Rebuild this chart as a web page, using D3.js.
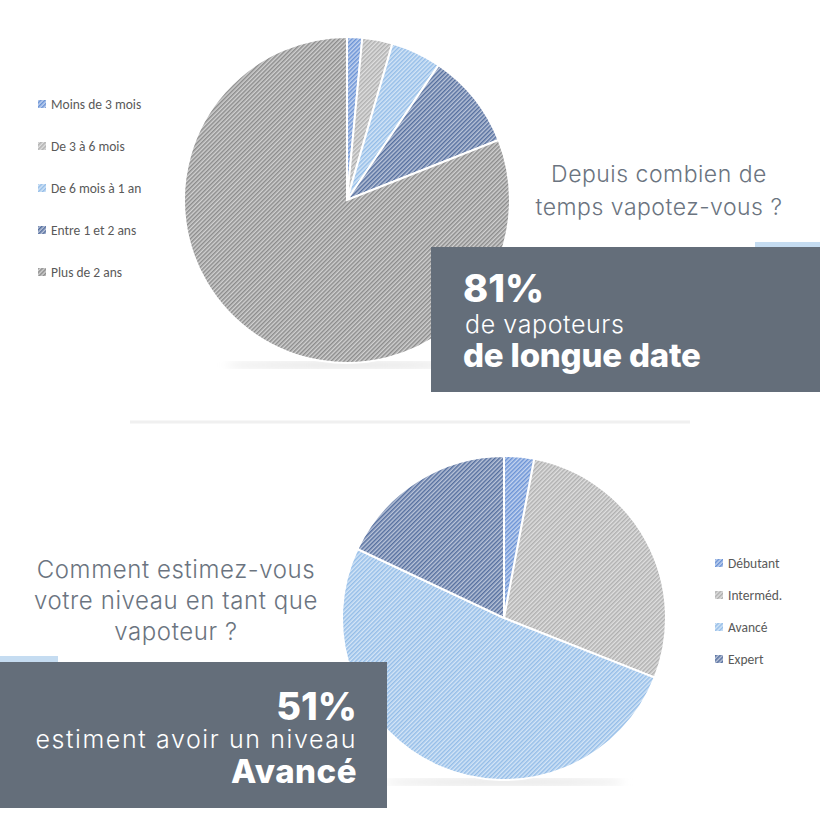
<!DOCTYPE html>
<html><head><meta charset="utf-8">
<script src="https://cdn.jsdelivr.net/npm/d3@7"></script>
<style>body{margin:0;background:#fff}</style>
</head><body><div id="chart"></div>
<script>
const durees=['Moins de 3 mois','De 3 à 6 mois','De 6 mois à 1 an','Entre 1 et 2 ans','Plus de 2 ans'];
const dureeVals=[1.5,3,5,9.5,81];
const niveaux=['Débutant','Interméd.','Avancé','Expert'];
const niveauVals=[3,28,51,18];
const colors1=['#6b93d6','#b0b0b0','#94bde8','#556f9f','#8c8c8c'];

const svg=d3.select('#chart').append('svg').attr('width',820).attr('height',820);
const defs=svg.append('defs');
//hatched fills like the office charts
function hatch(id,c){
  const p=defs.append('pattern').attr('id',id).attr('width',3).attr('height',3)
    .attr('patternUnits','userSpaceOnUse').attr('patternTransform','rotate(45)');
  p.append('rect').attr('width',3).attr('height',3).attr('fill',d3.interpolateRgb(c,'#fff')(0.6));
  p.append('rect').attr('width',1.5).attr('height',3).attr('fill',c);
}
colors1.forEach((c,i)=>hatch('h'+i,c));
const blur=defs.append('filter').attr('id','bl').attr('x','-50%').attr('width','200%');
blur.append('feGaussianBlur').attr('stdDeviation',4);

function pie(vals,cx,cy,r){
  const arcs=d3.pie().sort(null)(vals);
  const arc=d3.arc().innerRadius(0).outerRadius(r);
  svg.append('ellipse').attr('cx',cx).attr('cy',cy+r+2).attr('rx',r*0.75).attr('ry',3)
    .attr('fill','#ddd').attr('filter','url(#bl)');
  svg.append('g').attr('transform',`translate(${cx},${cy})`).selectAll('path').data(arcs).enter()
    .append('path').attr('d',arc).attr('fill',(d,i)=>`url(#h${i})`)
    .attr('stroke','#fff').attr('stroke-width',2);
}
pie(dureeVals,347,200,163);
pie(niveauVals,504,618,162);

function legend(names,x,y0,step){
  const y=d3.scalePoint().domain(names).range([y0,y0+step*(names.length-1)]);
  const g=svg.append('g').attr('font-family','Carlito, Liberation Sans, Arial').attr('font-size',13.5).attr('fill','#595959');
  names.forEach((n,i)=>{
    g.append('rect').attr('x',x).attr('y',y(n)-4).attr('width',8).attr('height',8).attr('fill',`url(#h${i})`);
    g.append('text').attr('x',x+13).attr('y',y(n)+5).text(n);
  });
}
legend(durees,38,104,42);
legend(niveaux,715,563,32);

svg.append('line').attr('x1',130).attr('x2',690).attr('y1',422).attr('y2',422)
  .attr('stroke','#f0f0f0').attr('stroke-width',3);

const ff='Inter, Lato, sans-serif';
function txt(x,y,s,size,fill,weight,anchor,ls){
  svg.append('text').attr('x',x).attr('y',y).attr('font-family',ff).attr('font-size',size)
    .attr('fill',fill).attr('font-weight',weight||300).attr('text-anchor',anchor||'start')
    .attr('letter-spacing',ls||0).text(s);
}
txt(659,182,'Depuis combien de',23,'#6b7480',300,'middle',0.5);
txt(659,215,'temps vapotez-vous ?',23,'#6b7480',300,'middle',0.5);
svg.append('rect').attr('x',755).attr('y',242).attr('width',65).attr('height',15).attr('fill','#c5dcf1');
svg.append('rect').attr('x',431).attr('y',247).attr('width',389).attr('height',145).attr('fill','#646e7a');
txt(463,302,'81%',38,'#fff',800,'start',0);
txt(465,333,'de vapoteurs',25,'#fff',300,'start',0.6);
txt(463,367,'de longue date',33,'#fff',800,'start',-0.2);

txt(176,578,'Comment estimez-vous',24,'#6b7480',300,'middle',0.6);
txt(176,609,'votre niveau en tant que',24,'#6b7480',300,'middle',0.6);
txt(176,640,'vapoteur ?',24,'#6b7480',300,'middle',0.6);
svg.append('rect').attr('x',0).attr('y',656).attr('width',58).attr('height',12).attr('fill','#c5dcf1');
svg.append('rect').attr('x',0).attr('y',662).attr('width',387).attr('height',146).attr('fill','#646e7a');
txt(357,720,'51%',38,'#fff',800,'end',0);
txt(357,748,'estiment avoir un niveau',25,'#fff',300,'end',1.6);
txt(357,783,'Avancé',33,'#fff',800,'end',0.5);
</script></body></html>
